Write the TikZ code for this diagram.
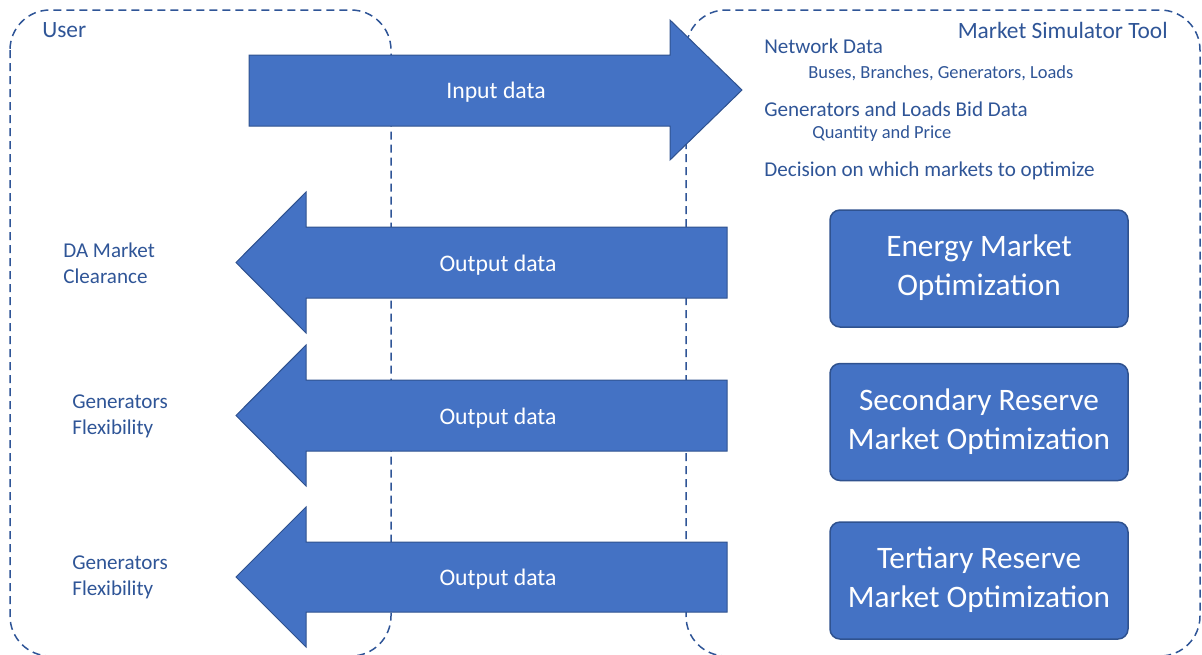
\documentclass[tikz,border=0pt]{standalone}
\usepackage{fontspec}
\setmainfont{Carlito}
\usepackage{tikz}
\usetikzlibrary {positioning}
\definecolor{officeblue}{HTML}{4472C4}
\definecolor{edgeblue}{HTML}{2F528F}
\definecolor{textblue}{HTML}{2F5597}
\tikzset{
        zone/.style={draw=textblue, line width=0.3mm,
                     dash pattern=on 1.6mm off 1mm, rounded corners=8mm},
        bigarrow/.style={fill=officeblue, draw=edgeblue, line width=0.2mm},
        arrowlabel/.style={text=white, font=\fontsize{13.5}{16}\selectfont},
        market/.style={fill=officeblue, draw=edgeblue, line width=0.3mm,
                       rounded corners=2mm, minimum width=59.6mm,
                       minimum height=23.4mm, align=center, text=white,
                       font=\fontsize{17.8}{22}\selectfont},
        title/.style={text=textblue, inner sep=0pt,
                      font=\fontsize{13.3}{16}\selectfont},
        info/.style={text=textblue, anchor=west, inner sep=0pt,
                     font=\fontsize{12}{14.7}\selectfont},
        subinfo/.style={text=textblue, anchor=west, inner sep=0pt,
                        font=\fontsize{10.5}{13}\selectfont},
        result/.style={text=textblue, anchor=west, align=left, inner sep=0pt,
                       font=\fontsize{12}{14.7}\selectfont},
 }

\begin{document}
\begin{tikzpicture}[x=0.2mm, y=-0.2mm]
    \useasboundingbox (0,0) rectangle (1202,654);
    % the two zones
    \draw[zone] (10,10) rectangle (391,656);
    \draw[zone] (686,10) rectangle (1200,656);
    \node[title, anchor=west] (user) at (42,30) {User};
    \node[title, anchor=east] (tool) at (1168,30) {Market Simulator Tool};

    % input arrow
    \draw[bigarrow] (249,55) -- (670,55) -- (670,20) -- (742,90)
          -- (670,160) -- (670,126) -- (249,126) -- cycle;
    \node[arrowlabel] (indata) at (496,92) {Input data};

    % output arrows
    \draw[bigarrow] (727,227) -- (306,227) -- (306,192) -- (236,262.5)
          -- (306,333) -- (306,298) -- (727,298) -- cycle;
    \node[arrowlabel] (outa) at (498,265) {Output data};
    \draw[bigarrow] (727,380) -- (306,380) -- (306,345) -- (236,415.5)
          -- (306,486) -- (306,451) -- (727,451) -- cycle;
    \node[arrowlabel] (outb) at (498,418) {Output data};
    \draw[bigarrow] (727,542) -- (306,542) -- (306,507) -- (236,577)
          -- (306,647) -- (306,612) -- (727,612) -- cycle;
    \node[arrowlabel] (outc) at (498,579) {Output data};

    % what the user gets back
    \node[result] (clear) at (63,263) {DA Market\\Clearance};
    \node[result] (flexa) at (72,416) {Generators\\Flexibility};
    \node[result] (flexb) at (72,577) {Generators\\Flexibility};

    % inputs of the tool
    \node[info] (net) at (764,46) {Network Data};
    \node[subinfo] (netsub) at (808,73) {Buses, Branches, Generators, Loads};
    \node[info] (bid) at (764,109) {Generators and Loads Bid Data};
    \node[subinfo] (bidsub) at (812,134) {Quantity and Price};
    \node[info] (dec) at (764,171) {Decision on which markets to optimize};

    % optimizations
    \node[market] (energy) at (979,268.5)
         {\strut Energy Market\\\strut Optimization};
    \node[market, below=7mm of energy] (second)
         {\strut Secondary Reserve\\\strut Market Optimization};
    \node[market, below=8mm of second] (third)
         {\strut Tertiary Reserve\\\strut Market Optimization};
\end{tikzpicture}
\end{document}
